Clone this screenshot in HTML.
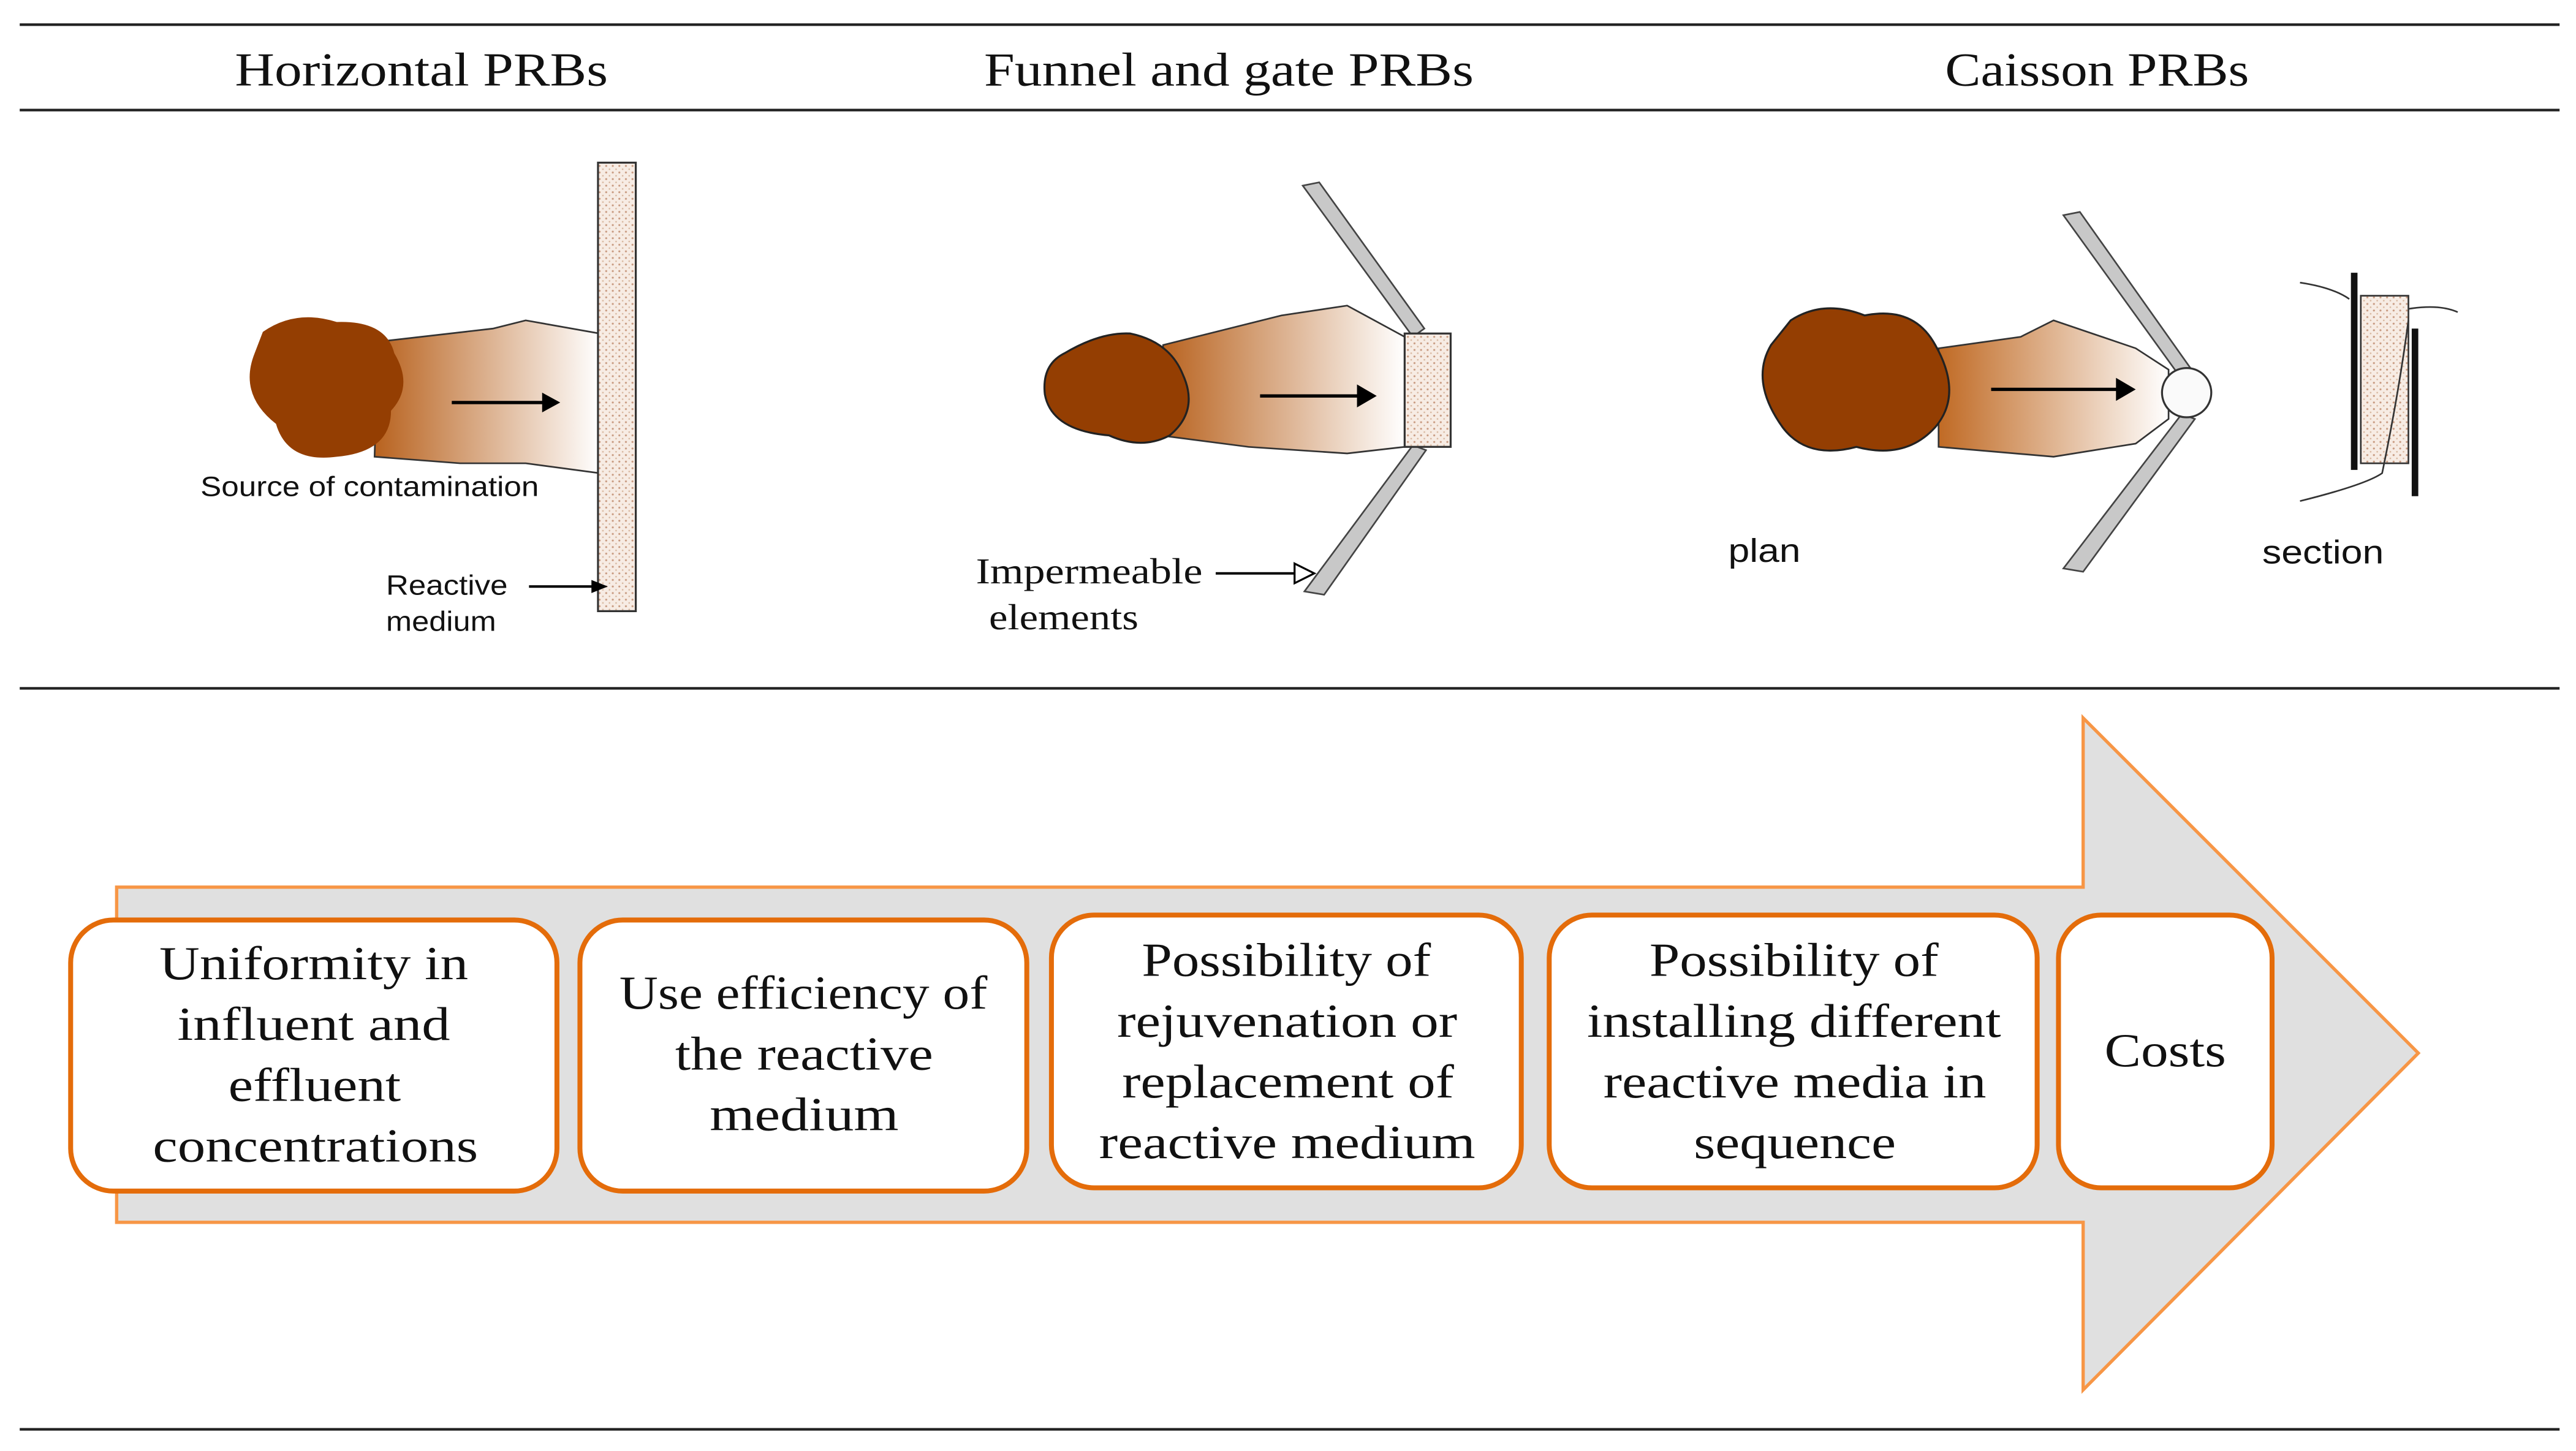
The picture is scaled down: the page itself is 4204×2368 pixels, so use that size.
<!DOCTYPE html>
<html><head><meta charset="utf-8"><style>html,body{margin:0;padding:0;background:#fff}svg{display:block}</style></head>
<body>
<svg width="4204" height="2368" viewBox="0 0 1568 883.2" xmlns="http://www.w3.org/2000/svg">
<defs>
<linearGradient id="pl" x1="0" x2="1" y1="0" y2="0"><stop offset="0" stop-color="#b8621e"/><stop offset="1" stop-color="#fff"/></linearGradient>
<linearGradient id="pl2" x1="0" x2="1" y1="0" y2="0"><stop offset="0" stop-color="#c06a24"/><stop offset="1" stop-color="#fff"/></linearGradient>
<pattern id="st" width="4" height="4" patternUnits="userSpaceOnUse"><rect width="4" height="4" fill="#f7ece4"/><circle cx="1" cy="1" r="0.6" fill="#c89a80"/><circle cx="3" cy="3" r="0.5" fill="#d8b8a0"/></pattern>
</defs>
<g stroke="#222" stroke-width="1.6">
<line x1="12" y1="15" x2="1558" y2="15"/><line x1="12" y1="67" x2="1558" y2="67"/>
<line x1="12" y1="419" x2="1558" y2="419"/><line x1="12" y1="870" x2="1558" y2="870"/>
</g>
<g font-family="Liberation Serif, serif" font-size="29" fill="#111" lengthAdjust="spacingAndGlyphs">
<text x="143" y="52" textLength="227" lengthAdjust="spacingAndGlyphs">Horizontal PRBs</text>
<text x="599" y="52" textLength="298" lengthAdjust="spacingAndGlyphs">Funnel and gate PRBs</text>
<text x="1184" y="52" textLength="185" lengthAdjust="spacingAndGlyphs">Caisson PRBs</text>
</g>
<!-- Horizontal -->
<path d="M230,208 L300,200 L320,195 L365,203 L365,288 L320,282 L280,282 L228,278 Z" fill="url(#pl)" stroke="#333" stroke-width="1"/>
<path d="M160,202 Q180,188 205,196 Q235,195 240,215 Q252,235 238,250 Q238,275 205,278 Q175,282 168,258 Q145,240 155,215 Z" fill="#943e02"/>
<rect x="364" y="99" width="23" height="273" fill="url(#st)" stroke="#333" stroke-width="1.2"/>
<line x1="275" y1="245" x2="332" y2="245" stroke="#000" stroke-width="2"/><path d="M330,239 L341,245 L330,251Z"/>
<g font-family="Liberation Sans, sans-serif" font-size="17" fill="#111">
<text x="122" y="302" textLength="206" lengthAdjust="spacingAndGlyphs">Source of contamination</text>
<text x="235" y="362" textLength="74" lengthAdjust="spacingAndGlyphs">Reactive</text>
<text x="235" y="384" textLength="67" lengthAdjust="spacingAndGlyphs">medium</text>
<text x="1052" y="342" font-size="20" textLength="44" lengthAdjust="spacingAndGlyphs">plan</text>
<text x="1377" y="343" font-size="20" textLength="74" lengthAdjust="spacingAndGlyphs">section</text>
</g>
<line x1="322" y1="357" x2="362" y2="357" stroke="#000" stroke-width="1.5"/><path d="M360,353 L370,357 L360,361Z"/>
<!-- Funnel -->
<path d="M708,210 L780,192 L820,186 L855,205 L855,272 L820,276 L760,272 L706,265 Z" fill="url(#pl)" stroke="#333" stroke-width="1"/>
<path d="M648,215 Q670,202 688,203 Q712,208 720,228 Q730,250 712,265 Q695,274 675,265 Q640,262 636,240 Q634,222 648,215Z" fill="#943e02" stroke="#222" stroke-width="1.2"/>
<polygon points="793,113 803,111 867,200 860,205" fill="#c8c8c8" stroke="#444" stroke-width="1"/>
<polygon points="860,271 868,274 806,362 794,360" fill="#c8c8c8" stroke="#444" stroke-width="1"/>
<rect x="855" y="203" width="28" height="69" fill="url(#st)" stroke="#333" stroke-width="1.2"/>
<line x1="767" y1="241" x2="828" y2="241" stroke="#000" stroke-width="2"/><path d="M826,234 L838,241 L826,248Z"/>
<g font-family="Liberation Serif, serif" font-size="22" fill="#111">
<text x="594" y="355" textLength="138" lengthAdjust="spacingAndGlyphs">Impermeable</text>
<text x="602" y="383" textLength="91" lengthAdjust="spacingAndGlyphs">elements</text></g>
<line x1="740" y1="349" x2="790" y2="349" stroke="#000" stroke-width="1.5"/><path d="M788,343 L800,349 L788,355Z" fill="#fff" stroke="#000" stroke-width="1.2"/>
<!-- Caisson -->
<path d="M1180,212 L1230,205 L1250,195 L1300,212 L1320,225 L1320,255 L1300,270 L1250,278 L1180,272 Z" fill="url(#pl2)" stroke="#333" stroke-width="1"/>
<path d="M1090,195 Q1110,182 1135,192 Q1165,186 1178,210 Q1195,240 1178,260 Q1160,280 1130,272 Q1100,280 1085,260 Q1065,232 1078,210Z" fill="#943e02" stroke="#222" stroke-width="1.2"/>
<polygon points="1256,131 1266,129 1334,225 1326,228" fill="#c8c8c8" stroke="#444" stroke-width="1"/>
<polygon points="1328,252 1336,255 1268,348 1256,346" fill="#c8c8c8" stroke="#444" stroke-width="1"/>
<circle cx="1331" cy="239" r="15" fill="#fafafa" stroke="#333" stroke-width="1.2"/>
<line x1="1212" y1="237" x2="1290" y2="237" stroke="#000" stroke-width="2"/><path d="M1288,230 L1300,237 L1288,244Z"/>
<rect x="1437" y="180" width="29" height="102" fill="url(#st)" stroke="#333" stroke-width="1"/>
<line x1="1433" y1="166" x2="1433" y2="286" stroke="#111" stroke-width="4"/>
<line x1="1470" y1="200" x2="1470" y2="302" stroke="#111" stroke-width="4"/>
<path d="M1400,172 Q1420,175 1430,182 M1466,188 Q1485,185 1496,190 M1400,305 Q1440,295 1450,288 Q1460,240 1466,195" fill="none" stroke="#333" stroke-width="1"/>
<!-- Big arrow -->
<polygon points="71,540 1268,540 1268,437 1472,641 1268,846 1268,744 71,744" fill="#e0e0e0" stroke="#f79646" stroke-width="2"/>
<g fill="#fff" stroke="#e46c0a" stroke-width="3">
<rect x="43" y="560" width="296" height="165" rx="26"/><rect x="353" y="560" width="272" height="165" rx="26"/>
<rect x="640" y="557" width="286" height="166" rx="26"/><rect x="943" y="557" width="297" height="166" rx="26"/>
<rect x="1253" y="557" width="130" height="166" rx="26"/>
</g>
<g font-family="Liberation Serif, serif" font-size="29" fill="#111">
<text x="97" y="596" textLength="188" lengthAdjust="spacingAndGlyphs">Uniformity in</text>
<text x="108" y="633" textLength="166" lengthAdjust="spacingAndGlyphs">influent and</text>
<text x="139" y="670" textLength="105" lengthAdjust="spacingAndGlyphs">effluent</text>
<text x="93" y="707" textLength="198" lengthAdjust="spacingAndGlyphs">concentrations</text>
<text x="377" y="614" textLength="224" lengthAdjust="spacingAndGlyphs">Use efficiency of</text>
<text x="411" y="651" textLength="157" lengthAdjust="spacingAndGlyphs">the reactive</text>
<text x="432" y="688" textLength="115" lengthAdjust="spacingAndGlyphs">medium</text>
<text x="695" y="594" textLength="176" lengthAdjust="spacingAndGlyphs">Possibility of</text>
<text x="680" y="631" textLength="207" lengthAdjust="spacingAndGlyphs">rejuvenation or</text>
<text x="683" y="668" textLength="202" lengthAdjust="spacingAndGlyphs">replacement of</text>
<text x="669" y="705" textLength="229" lengthAdjust="spacingAndGlyphs">reactive medium</text>
<text x="1004" y="594" textLength="176" lengthAdjust="spacingAndGlyphs">Possibility of</text>
<text x="966" y="631" textLength="252" lengthAdjust="spacingAndGlyphs">installing different</text>
<text x="976" y="668" textLength="233" lengthAdjust="spacingAndGlyphs">reactive media in</text>
<text x="1031" y="705" textLength="123" lengthAdjust="spacingAndGlyphs">sequence</text>
<text x="1281" y="649" textLength="74" lengthAdjust="spacingAndGlyphs">Costs</text>
</g>
</svg>
</body></html>
